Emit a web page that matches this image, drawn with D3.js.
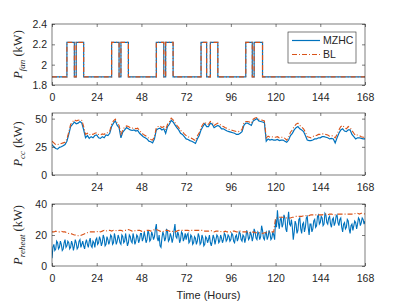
<!DOCTYPE html>
<html>
<head>
<meta charset="utf-8">
<script src="https://cdn.jsdelivr.net/npm/d3@7"></script>
<style>
  body { margin: 0; background: #fff; }
</style>
</head>
<body>
<div id="chart"></div>
<script>
// time axis (hours)
const xTicks = [0, 24, 48, 72, 96, 120, 144, 168];

// fan power: switch times and levels (kW)
const fanTimes = [0, 8, 12, 13, 17, 32, 36, 37, 41, 56, 60, 61, 65, 80, 83, 85, 89, 104, 107.5, 108.5, 113, 168];
const fanMZHC  = [1.88, 2.22, 1.88, 2.22, 1.88, 2.22, 1.88, 2.22, 1.88, 2.22, 1.88, 2.22, 1.88, 2.22, 1.88, 2.22, 1.88, 2.22, 1.88, 2.22, 1.88, 1.88];
const fanBL    = [1.88, 2.22, 1.88, 2.22, 1.88, 2.22, 1.88, 2.22, 1.88, 2.22, 1.88, 2.22, 1.88, 2.22, 1.88, 2.22, 1.88, 2.22, 1.88, 2.22, 1.88, 1.88];

// cooling coil power, hourly (kW)
const pccMZHC = [
  27, 25, 23.5, 23, 24.5, 25, 26, 27, 30, 36, 43, 45, 47, 45.5, 46, 47.5, 46, 40, 33, 35, 32.5, 34, 33, 35,
  35.5, 33, 32.5, 34, 33, 35.5, 35, 37, 43, 46, 48, 44, 42, 33, 38, 40, 42, 41, 40, 39.5, 40, 39, 39.5, 37,
  35.5, 34, 33, 32, 30, 29.5, 28.5, 32, 40, 41, 41.5, 40, 41, 37, 43, 45, 48.5, 47, 44.5, 42, 40, 37, 36, 34,
  32, 31.5, 30.5, 30, 29, 28, 32, 35, 40, 43, 45.5, 43, 43, 46, 45, 42, 43, 44, 43, 41, 41, 40, 39, 38.5,
  38, 37.5, 37, 36, 36, 37, 38.5, 44, 46, 46, 45, 44, 48, 49, 50, 48, 47.5, 47, 46.5, 30, 32, 31, 31.5, 31,
  31, 31.5, 30.5, 31, 31, 30, 29, 31, 35, 37, 40, 42, 43, 41, 40, 38.5, 35, 31, 30.5, 30.5, 31, 32, 32, 33,
  33, 34, 34, 33.5, 33, 32, 32.5, 32, 28.5, 33, 37, 40, 41, 39, 38.5, 40, 40, 36, 34, 32, 33, 33, 32.5, 32,
  32
];
const pccBL = [
  30, 28.5, 27, 27, 27.5, 28, 28.5, 29, 32, 38, 45, 47, 49, 48, 48.5, 49, 48.5, 43, 36, 37, 35.5, 36.5, 36, 37,
  37.5, 36, 35.5, 36.5, 36, 37.5, 37.5, 39, 45, 48, 49.5, 46, 44, 36, 40, 42.5, 43.5, 43, 42, 41.5, 42, 41, 41.5, 39.5,
  37.5, 36, 35, 34, 32.5, 31.5, 31, 34, 42, 43, 43.5, 42, 43, 40, 45, 47, 50.5, 49, 46.5, 44, 42, 39.5, 38.5, 36.5,
  35, 34, 33, 32.5, 31.5, 30.5, 34.5, 37.5, 42, 45, 47, 45, 45, 47.5, 47, 44, 45, 46, 45, 43.5, 43, 42, 41.5, 40.5,
  40, 39.5, 39, 38.5, 38.5, 39, 40.5, 46, 47.5, 47.5, 47, 46, 49.5, 50.5, 51, 49.5, 49, 48.5, 48, 33, 34.5, 33.5, 34, 33.5,
  33.5, 34, 33, 33.5, 33.5, 32.5, 31, 33.5, 38, 40, 43, 45, 46, 44, 42.5, 41, 38, 34, 33.5, 33, 34, 35, 35, 36,
  36, 36.5, 36.5, 36, 35.5, 34.5, 35, 34.5, 33, 36, 40, 43, 44, 42, 41, 43, 42, 39.5, 37, 35, 35.5, 35, 34, 33.5,
  33.5
];

// reheat power (kW): MZHC every half hour, BL hourly
const reheatStep = 0.5;
const reheatMZHC = [
  5, 12, 14, 10, 11, 16, 15, 11, 12, 16, 14, 10, 11, 15, 17, 12, 13, 16, 15, 11, 12, 16, 14, 10,
  13, 17, 15, 11, 12, 16, 17, 12, 14, 16, 13, 11, 15, 17, 14, 12, 16, 18, 13, 12, 16, 15, 12, 17,
  18, 14, 15, 19, 17, 13, 15, 20, 18, 13, 14, 19, 17, 14, 16, 20, 19, 14, 15, 21, 18, 14, 16, 20,
  18, 15, 14, 20, 19, 15, 16, 21, 17, 13, 15, 20, 19, 16, 15, 21, 18, 14, 16, 20, 19, 15, 17, 21,
  21, 16, 18, 22, 19, 15, 17, 23, 21, 16, 17, 22, 20, 17, 19, 24, 27, 18, 16, 20, 13, 12, 18, 22,
  20, 16, 18, 24, 22, 16, 17, 21, 19, 15, 18, 23, 27, 19, 18, 22, 20, 15, 17, 22, 21, 16, 18, 21,
  17, 20, 21, 15, 16, 20, 19, 14, 15, 19, 18, 14, 16, 21, 19, 14, 15, 20, 18, 13, 14, 19, 18, 15,
  17, 20, 15, 13, 16, 20, 18, 14, 17, 20, 19, 15, 16, 20, 18, 15, 17, 21, 20, 16, 17, 20, 19, 16,
  17, 21, 20, 16, 15, 19, 20, 16, 18, 22, 21, 17, 16, 20, 19, 15, 18, 23, 21, 17, 18, 22, 20, 16,
  19, 24, 22, 18, 17, 22, 21, 17, 19, 26, 23, 18, 17, 21, 22, 17, 19, 23, 21, 17, 18, 22, 20, 17,
  30, 25, 36, 28, 24, 30, 31, 25, 27, 33, 31, 24, 22, 29, 35, 27, 26, 30, 25, 17, 22, 29, 27, 21,
  23, 30, 31, 24, 21, 27, 28, 22, 25, 31, 32, 25, 20, 27, 27, 22, 24, 29, 30, 25, 26, 32, 33, 27,
  28, 32, 31, 26, 27, 34, 33, 28, 27, 31, 32, 27, 25, 30, 31, 26, 28, 32, 33, 28, 26, 30, 31, 25,
  22, 27, 28, 24, 25, 30, 29, 24, 21, 26, 27, 23, 26, 29, 28, 24, 27, 31, 30, 26, 28, 31, 30, 27,
  29
];
const reheatBL = [
  22, 22, 22.5, 22, 22, 22.5, 22, 22, 21.5, 21, 21, 20.5, 20, 20, 19.5, 19.5, 20, 20.5, 21, 21.5, 22, 22, 22, 22,
  22, 22.5, 22, 22.5, 23, 22.5, 23, 23, 22.5, 23, 23, 22.5, 23, 23, 22.5, 23, 23, 23.5, 23, 22.5, 22.5, 23, 23, 23,
  22.5, 22, 22.5, 23, 23, 22.5, 23, 23.5, 23.5, 23, 22.5, 22, 22.5, 23, 23, 22.5, 22, 22.5, 22, 22.5, 23, 23, 23, 23,
  23, 23, 22.5, 23, 23, 23, 23, 23, 23, 23, 22.5, 22.5, 22.5, 23, 22.5, 22, 22.5, 22.5, 22.5, 22, 22, 22.5, 22, 22,
  22, 22.5, 22.5, 22, 22, 22.5, 22, 22, 22, 22, 21.5, 21.5, 22, 21.5, 21.5, 21.5, 21.5, 21, 21.5, 21.5, 22, 22, 22, 22,
  31, 31, 31.5, 31.5, 31.5, 31.5, 31, 31, 31, 31.5, 31.5, 32, 32, 32, 32, 32.5, 32.5, 32.5, 32.5, 33, 33, 33, 33, 33,
  33, 33, 33.5, 33.5, 33, 33.5, 33.5, 33, 33, 33.5, 33.5, 33.5, 33.5, 33.5, 33.5, 33.5, 33.5, 33.5, 33.5, 34, 34, 33.5, 34, 34,
  33.5
];

const blue = "#0072BD", orange = "#D95319", axisColor = "#262626";
const W = 403, H = 302;
const left = 52, right = 365;

const svg = d3.select("#chart")
  .append("svg")
    .attr("width", W)
    .attr("height", H)
    .style("font-family", "'Liberation Sans', Arial, sans-serif");

const x = d3.scaleLinear().domain([0, 168]).range([left, right]);

function drawPanel(id, top, bottom, yDomain, yTicks, sub, series, curve, hideZeroX) {
  const y = d3.scaleLinear().domain(yDomain).range([bottom, top]);
  const g = svg.append("g");

  g.append("clipPath").attr("id", "clip" + id)
    .append("rect")
      .attr("x", left).attr("y", top)
      .attr("width", right - left).attr("height", bottom - top);

  const lines = g.append("g").attr("clip-path", `url(#clip${id})`);
  series.forEach(s => {
    const line = d3.line()
      .x((d, i) => x(s.t ? s.t[i] : i * (s.step || 1)))
      .y(d => y(d))
      .curve(curve);
    lines.append("path")
      .datum(s.values)
      .attr("fill", "none")
      .attr("stroke", s.color)
      .attr("stroke-width", s.width)
      .attr("stroke-dasharray", s.dash || null)
      .attr("d", line);
  });

  // axes, ticks pointing inward on all four sides
  const fmtY = d => (+d.toFixed(1)).toString();
  g.append("g")
    .attr("transform", `translate(0,${bottom})`)
    .call(d3.axisBottom(x).tickValues(xTicks).tickSizeInner(-3).tickSizeOuter(0).tickPadding(9)
      .tickFormat(d => (hideZeroX && d === 0) ? "" : d));
  g.append("g")
    .attr("transform", `translate(0,${top})`)
    .call(d3.axisTop(x).tickValues(xTicks).tickSizeInner(-3).tickSizeOuter(0).tickFormat(""));
  g.append("g")
    .attr("transform", `translate(${left},0)`)
    .call(d3.axisLeft(y).tickValues(yTicks).tickSizeInner(-3).tickSizeOuter(0).tickPadding(5).tickFormat(fmtY));
  g.append("g")
    .attr("transform", `translate(${right},0)`)
    .call(d3.axisRight(y).tickValues(yTicks).tickSizeInner(-3).tickSizeOuter(0).tickFormat(""));

  g.selectAll(".domain").remove();
  g.selectAll(".tick line").attr("stroke", axisColor).attr("stroke-width", 0.6);
  g.selectAll(".tick text").attr("fill", axisColor).style("font-size", "10.5px").style("font-family", "'Liberation Sans', Arial, sans-serif");

  g.append("rect")
    .attr("x", left).attr("y", top)
    .attr("width", right - left).attr("height", bottom - top)
    .attr("fill", "none")
    .attr("stroke", axisColor)
    .attr("stroke-width", 0.6);

  // y label: P_sub (kW)
  const lbl = g.append("text")
    .attr("transform", `translate(22,${(top + bottom) / 2}) rotate(-90)`)
    .attr("text-anchor", "middle")
    .attr("fill", axisColor)
    .style("font-family", "'Liberation Serif', 'DejaVu Serif', serif")
    .style("font-size", "12.5px");
  lbl.append("tspan").style("font-style", "italic").text("P");
  lbl.append("tspan").style("font-style", "italic").style("font-size", "9px").attr("dy", 3).text(sub);
  lbl.append("tspan").attr("dy", -3).text(" (kW)");

  return g;
}

drawPanel(1, 24, 85, [1.8, 2.4], [1.8, 2, 2.2, 2.4], "fan", [
  { t: fanTimes, values: fanMZHC, color: blue, width: 1.2 },
  { t: fanTimes, values: fanBL, color: orange, width: 1.2, dash: "5,2,1,2" }
], d3.curveStepAfter, false);

drawPanel(2, 113, 175, [0, 55], [0, 25, 50], "cc", [
  { values: pccMZHC, color: blue, width: 1.2 },
  { values: pccBL, color: orange, width: 1.1, dash: "5,2,1,2" }
], d3.curveLinear, true);

drawPanel(3, 204, 266, [0, 40], [0, 20, 40], "reheat", [
  { values: reheatMZHC, step: reheatStep, color: blue, width: 1.1 },
  { values: reheatBL, color: orange, width: 1.1, dash: "5,2,1,2" }
], d3.curveLinear, false);

// legend
const legend = svg.append("g");
legend.append("rect")
  .attr("x", 288).attr("y", 32).attr("width", 68).attr("height", 31)
  .attr("fill", "#fff").attr("stroke", axisColor).attr("stroke-width", 0.6);
const entries = [
  { name: "MZHC", color: blue, dash: null, y: 40.5 },
  { name: "BL", color: orange, dash: "5,2,1,2", y: 54.5 }
];
entries.forEach(e => {
  legend.append("line")
    .attr("x1", 292).attr("x2", 320).attr("y1", e.y).attr("y2", e.y)
    .attr("stroke", e.color).attr("stroke-width", 1.2)
    .attr("stroke-dasharray", e.dash);
  legend.append("text")
    .attr("x", 323).attr("y", e.y + 3.8)
    .attr("fill", axisColor)
    .style("font-size", "10.5px")
    .text(e.name);
});

// x label
svg.append("text")
  .attr("x", (left + right) / 2)
  .attr("y", 299)
  .attr("text-anchor", "middle")
  .attr("fill", axisColor)
  .style("font-size", "11px")
  .text("Time (Hours)");
</script>
</body>
</html>
